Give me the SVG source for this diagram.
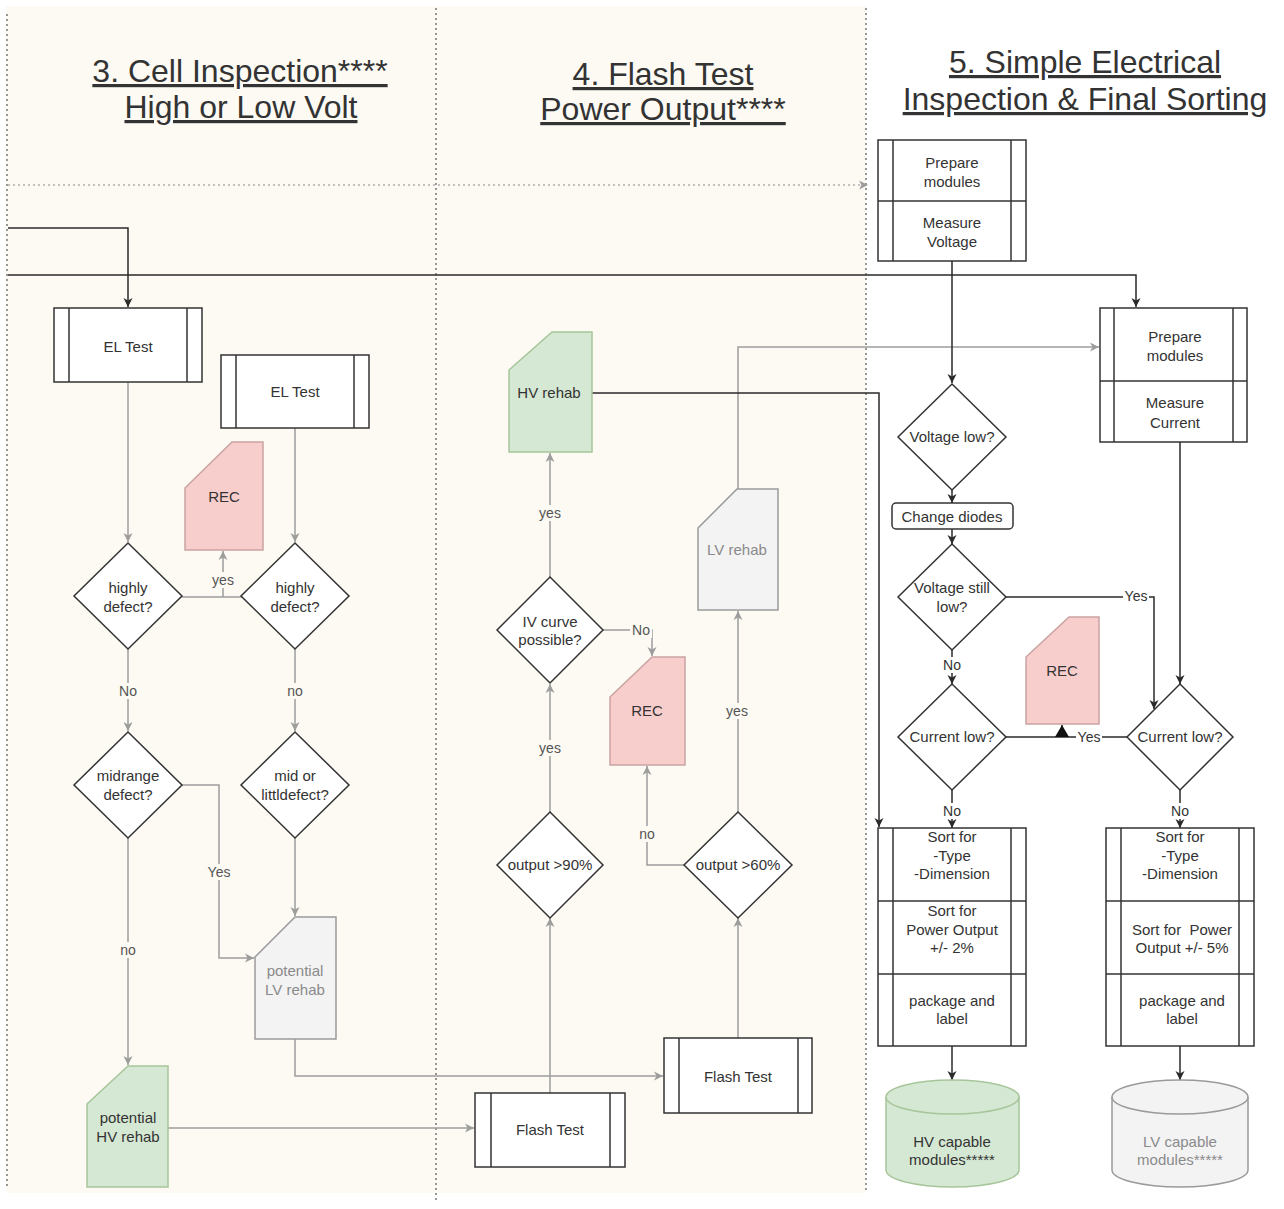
<svg xmlns="http://www.w3.org/2000/svg" width="1284" height="1209" viewBox="0 0 1284 1209">
  <style>
    text { font-family: "Liberation Sans", Arial, sans-serif; text-anchor: middle; }
    .title { font-size: 32px; fill: #333; text-decoration: underline; }
    .t { font-size: 15px; fill: #333; }
    .tg { font-size: 15px; fill: #8a8a8a; }
    .lbl { font-size: 14px; fill: #555; }
    .lbld { font-size: 14px; fill: #333; }
    .box { fill: #ffffff; stroke: #333; stroke-width: 1.5; }
    .in { stroke: #333; stroke-width: 1.5; }
    .dia { fill: #ffffff; stroke: #333; stroke-width: 1.5; }
    .red { fill: #f8cecc; stroke: #c9a3a2; stroke-width: 1.5; }
    .green { fill: #d5e8d4; stroke: #a7c59a; stroke-width: 1.5; }
    .grey { fill: #f3f3f4; stroke: #9a9a9a; stroke-width: 1.5; }
    .cg { fill: none; stroke: #9d9d9d; stroke-width: 1.5; }
    .cd { fill: none; stroke: #2a2a2a; stroke-width: 1.5; }
    .sep { fill: none; stroke: #777; stroke-width: 1.5; stroke-dasharray: 2 3; }
    .bgc { fill: #fcfaf3; }
    .bgw { fill: #ffffff; }
  </style>
  <defs>
    <marker id="ag" markerUnits="userSpaceOnUse" markerWidth="10" markerHeight="10" refX="9" refY="5" orient="auto">
      <path d="M0,0.5 L9,5 L0,9.5 L2.5,5 Z" fill="#9d9d9d"/>
    </marker>
    <marker id="ad" markerUnits="userSpaceOnUse" markerWidth="10" markerHeight="10" refX="9" refY="5" orient="auto">
      <path d="M0,0.5 L9,5 L0,9.5 L2.5,5 Z" fill="#2a2a2a"/>
    </marker>
    <marker id="ab" markerUnits="userSpaceOnUse" markerWidth="14" markerHeight="14" refX="12" refY="7" orient="auto">
      <path d="M0,0 L12,7 L0,14 Z" fill="#111"/>
    </marker>
  </defs>

  <!-- page background and lanes -->
  <rect x="0" y="0" width="1284" height="1209" fill="#ffffff"/>
  <rect x="6" y="6" width="860" height="1187" class="bgc"/>
  <line x1="7" y1="14" x2="7" y2="1187" class="sep"/>
  <line x1="436" y1="8" x2="436" y2="1200" class="sep"/>
  <line x1="866" y1="8" x2="866" y2="1190" class="sep"/>
  <line x1="8" y1="185" x2="868" y2="185" stroke="#b0b0b0" stroke-width="1.5" stroke-dasharray="2 3" marker-end="url(#ag)"/>

  <!-- lane titles -->
  <text class="title" x="240" y="82">3. Cell Inspection****</text>
  <text class="title" x="241" y="118">High or Low Volt</text>
  <text class="title" x="663" y="85">4. Flash Test</text>
  <text class="title" x="663" y="120">Power Output****</text>
  <text class="title" x="1085" y="73">5. Simple Electrical</text>
  <text class="title" x="1085" y="110">Inspection &amp; Final Sorting</text>

  <!-- connectors -->
  <g id="connectors">
    <path class="cd" d="M8,228 H128 V307" marker-end="url(#ad)"/>
    <path class="cd" d="M8,275 H1136 V307" marker-end="url(#ad)"/>

    <path class="cg" d="M128,382 V542" marker-end="url(#ag)"/>
    <path class="cg" d="M295,428 V542" marker-end="url(#ag)"/>
    <path class="cg" d="M182,597 H242"/>
    <path class="cg" d="M223,597 V551" marker-end="url(#ag)"/>
    <path class="cg" d="M128,649 V731" marker-end="url(#ag)"/>
    <path class="cg" d="M295,649 V731" marker-end="url(#ag)"/>
    <path class="cg" d="M182,785 H219 V958 H254" marker-end="url(#ag)"/>
    <path class="cg" d="M295,838 V916" marker-end="url(#ag)"/>
    <path class="cg" d="M128,838 V1065" marker-end="url(#ag)"/>
    <path class="cg" d="M168,1128 H474" marker-end="url(#ag)"/>
    <path class="cg" d="M295,1039 V1076 H663" marker-end="url(#ag)"/>
    <path class="cg" d="M550,1093 V918" marker-end="url(#ag)"/>
    <path class="cg" d="M738,1038 V918" marker-end="url(#ag)"/>
    <path class="cg" d="M685,865 H647 V766" marker-end="url(#ag)"/>
    <path class="cg" d="M550,812 V684" marker-end="url(#ag)"/>
    <path class="cg" d="M603,630 H652 V656" marker-end="url(#ag)"/>
    <path class="cg" d="M550,577 V453" marker-end="url(#ag)"/>
    <path class="cg" d="M738,812 V611" marker-end="url(#ag)"/>
    <path class="cg" d="M738,489 V347 H1099" marker-end="url(#ag)"/>

    <path class="cd" d="M592,393 H879 V827" marker-end="url(#ad)"/>
    <path class="cd" d="M952,261 V383" marker-end="url(#ad)"/>
    <path class="cd" d="M952,490 V503" marker-end="url(#ad)"/>
    <path class="cd" d="M952,529 V544" marker-end="url(#ad)"/>
    <path class="cd" d="M1006,597 H1154 V709" marker-end="url(#ad)"/>
    <path class="cd" d="M952,650 V684" marker-end="url(#ad)"/>
    <path class="cd" d="M1180,442 V684" marker-end="url(#ad)"/>
    <path class="cd" d="M1127,737 H1006"/>
    <path class="cd" d="M1062,737 V725" marker-end="url(#ab)"/>
    <path class="cd" d="M952,790 V828" marker-end="url(#ad)"/>
    <path class="cd" d="M1180,790 V828" marker-end="url(#ad)"/>
    <path class="cd" d="M952,1046 V1080" marker-end="url(#ad)"/>
    <path class="cd" d="M1180,1046 V1080" marker-end="url(#ad)"/>

    <!-- connector labels -->
    <rect x="211" y="572" width="24" height="16" class="bgc"/>
    <text class="lbl" x="223" y="585">yes</text>
    <rect x="117" y="683" width="22" height="16" class="bgc"/>
    <text class="lbl" x="128" y="696">No</text>
    <rect x="286" y="683" width="18" height="16" class="bgc"/>
    <text class="lbl" x="295" y="696">no</text>
    <rect x="206" y="864" width="26" height="16" class="bgc"/>
    <text class="lbl" x="219" y="877">Yes</text>
    <rect x="119" y="942" width="18" height="16" class="bgc"/>
    <text class="lbl" x="128" y="955">no</text>
    <rect x="638" y="826" width="18" height="16" class="bgc"/>
    <text class="lbl" x="647" y="839">no</text>
    <rect x="538" y="740" width="24" height="16" class="bgc"/>
    <text class="lbl" x="550" y="753">yes</text>
    <rect x="630" y="622" width="22" height="16" class="bgc"/>
    <text class="lbl" x="641" y="635">No</text>
    <rect x="538" y="505" width="24" height="16" class="bgc"/>
    <text class="lbl" x="550" y="518">yes</text>
    <rect x="726" y="703" width="24" height="16" class="bgc"/>
    <text class="lbl" x="737" y="716">yes</text>
    <rect x="1123" y="588" width="26" height="16" class="bgw"/>
    <text class="lbld" x="1136" y="601">Yes</text>
    <rect x="941" y="657" width="22" height="16" class="bgw"/>
    <text class="lbld" x="952" y="670">No</text>
    <rect x="1076" y="729" width="26" height="16" class="bgw"/>
    <text class="lbld" x="1089" y="742">Yes</text>
    <rect x="941" y="803" width="22" height="16" class="bgw"/>
    <text class="lbld" x="952" y="816">No</text>
    <rect x="1169" y="803" width="22" height="16" class="bgw"/>
    <text class="lbld" x="1180" y="816">No</text>
  </g>

  <!-- lane 3: cell inspection -->
  <g id="el-test-1">
    <rect class="box" x="54" y="308" width="148" height="74"/>
    <line class="in" x1="69" y1="308" x2="69" y2="382"/>
    <line class="in" x1="187" y1="308" x2="187" y2="382"/>
    <text class="t" x="128" y="352">EL Test</text>
  </g>
  <g id="el-test-2">
    <rect class="box" x="221" y="355" width="148" height="73"/>
    <line class="in" x1="236" y1="355" x2="236" y2="428"/>
    <line class="in" x1="354" y1="355" x2="354" y2="428"/>
    <text class="t" x="295" y="397">EL Test</text>
  </g>
  <g id="rec-1">
    <polygon class="red" points="185,488 232,442 263,442 263,550 185,550"/>
    <text class="t" x="224" y="502">REC</text>
  </g>
  <g id="highly-defect-1">
    <polygon class="dia" points="128,543 182,596 128,649 74,596"/>
    <text class="t" x="128" y="593">highly</text>
    <text class="t" x="128" y="612">defect?</text>
  </g>
  <g id="highly-defect-2">
    <polygon class="dia" points="295,543 349,596 295,649 241,596"/>
    <text class="t" x="295" y="593">highly</text>
    <text class="t" x="295" y="612">defect?</text>
  </g>
  <g id="midrange-defect">
    <polygon class="dia" points="128,732 182,785 128,838 74,785"/>
    <text class="t" x="128" y="781">midrange</text>
    <text class="t" x="128" y="800">defect?</text>
  </g>
  <g id="mid-or-little-defect">
    <polygon class="dia" points="295,732 349,785 295,838 241,785"/>
    <text class="t" x="295" y="781">mid or</text>
    <text class="t" x="295" y="800">littldefect?</text>
  </g>
  <g id="potential-lv-rehab">
    <polygon class="grey" points="255,957 295,917 336,917 336,1039 255,1039"/>
    <text class="tg" x="295" y="976">potential</text>
    <text class="tg" x="295" y="995">LV rehab</text>
  </g>
  <g id="potential-hv-rehab">
    <polygon class="green" points="87,1104 128,1066 168,1066 168,1187 87,1187"/>
    <text class="t" x="128" y="1123">potential</text>
    <text class="t" x="128" y="1142">HV rehab</text>
  </g>

  <!-- lane 4: flash test -->
  <g id="flash-test-1">
    <rect class="box" x="475" y="1093" width="150" height="74"/>
    <line class="in" x1="491" y1="1093" x2="491" y2="1167"/>
    <line class="in" x1="610" y1="1093" x2="610" y2="1167"/>
    <text class="t" x="550" y="1135">Flash Test</text>
  </g>
  <g id="flash-test-2">
    <rect class="box" x="664" y="1038" width="148" height="75"/>
    <line class="in" x1="679" y1="1038" x2="679" y2="1113"/>
    <line class="in" x1="798" y1="1038" x2="798" y2="1113"/>
    <text class="t" x="738" y="1082">Flash Test</text>
  </g>
  <g id="output-90">
    <polygon class="dia" points="550,812 603,865 550,918 497,865"/>
    <text class="t" x="550" y="870">output &gt;90%</text>
  </g>
  <g id="output-60">
    <polygon class="dia" points="738,812 792,865 738,918 684,865"/>
    <text class="t" x="738" y="870">output &gt;60%</text>
  </g>
  <g id="rec-2">
    <polygon class="red" points="610,697 652,657 685,657 685,765 610,765"/>
    <text class="t" x="647" y="716">REC</text>
  </g>
  <g id="iv-curve">
    <polygon class="dia" points="550,577 603,630 550,683 497,630"/>
    <text class="t" x="550" y="627">IV curve</text>
    <text class="t" x="550" y="645">possible?</text>
  </g>
  <g id="hv-rehab">
    <polygon class="green" points="509,370 552,332 592,332 592,452 509,452"/>
    <text class="t" x="549" y="398">HV rehab</text>
  </g>
  <g id="lv-rehab">
    <polygon class="grey" points="698,528 737,489 778,489 778,610 698,610"/>
    <text class="tg" x="737" y="555">LV rehab</text>
  </g>

  <!-- lane 5: electrical inspection and sorting -->
  <g id="measure-voltage">
    <rect class="box" x="878" y="140" width="148" height="121"/>
    <line class="in" x1="878" y1="201" x2="1026" y2="201"/>
    <line class="in" x1="893" y1="140" x2="893" y2="261"/>
    <line class="in" x1="1011" y1="140" x2="1011" y2="261"/>
    <text class="t" x="952" y="168">Prepare</text>
    <text class="t" x="952" y="187">modules</text>
    <text class="t" x="952" y="228">Measure</text>
    <text class="t" x="952" y="247">Voltage</text>
  </g>
  <g id="measure-current">
    <rect class="box" x="1100" y="308" width="147" height="134"/>
    <line class="in" x1="1100" y1="381" x2="1247" y2="381"/>
    <line class="in" x1="1114" y1="308" x2="1114" y2="442"/>
    <line class="in" x1="1233" y1="308" x2="1233" y2="442"/>
    <text class="t" x="1175" y="342">Prepare</text>
    <text class="t" x="1175" y="361">modules</text>
    <text class="t" x="1175" y="408">Measure</text>
    <text class="t" x="1175" y="428">Current</text>
  </g>
  <g id="voltage-low">
    <polygon class="dia" points="952,384 1006,437 952,490 898,437"/>
    <text class="t" x="952" y="442">Voltage low?</text>
  </g>
  <g id="change-diodes">
    <rect class="box" x="892" y="503" width="121" height="26" rx="4"/>
    <text class="t" x="952" y="522">Change diodes</text>
  </g>
  <g id="voltage-still-low">
    <polygon class="dia" points="952,544 1006,597 952,650 898,597"/>
    <text class="t" x="952" y="593">Voltage still</text>
    <text class="t" x="952" y="612">low?</text>
  </g>
  <g id="current-low-1">
    <polygon class="dia" points="952,684 1006,737 952,790 898,737"/>
    <text class="t" x="952" y="742">Current low?</text>
  </g>
  <g id="current-low-2">
    <polygon class="dia" points="1180,684 1233,737 1180,790 1127,737"/>
    <text class="t" x="1180" y="742">Current low?</text>
  </g>
  <g id="rec-3">
    <polygon class="red" points="1026,657 1069,617 1099,617 1099,724 1026,724"/>
    <text class="t" x="1062" y="676">REC</text>
  </g>
  <g id="sort-hv">
    <rect class="box" x="878" y="828" width="148" height="218"/>
    <line class="in" x1="878" y1="901" x2="1026" y2="901"/>
    <line class="in" x1="878" y1="974" x2="1026" y2="974"/>
    <line class="in" x1="893" y1="828" x2="893" y2="1046"/>
    <line class="in" x1="1011" y1="828" x2="1011" y2="1046"/>
    <text class="t" x="952" y="842">Sort for</text>
    <text class="t" x="952" y="861">-Type</text>
    <text class="t" x="952" y="879">-Dimension</text>
    <text class="t" x="952" y="916">Sort for</text>
    <text class="t" x="952" y="935">Power Output</text>
    <text class="t" x="952" y="953">+/- 2%</text>
    <text class="t" x="952" y="1006">package and</text>
    <text class="t" x="952" y="1024">label</text>
  </g>
  <g id="sort-lv">
    <rect class="box" x="1106" y="828" width="148" height="218"/>
    <line class="in" x1="1106" y1="901" x2="1254" y2="901"/>
    <line class="in" x1="1106" y1="974" x2="1254" y2="974"/>
    <line class="in" x1="1121" y1="828" x2="1121" y2="1046"/>
    <line class="in" x1="1239" y1="828" x2="1239" y2="1046"/>
    <text class="t" x="1180" y="842">Sort for</text>
    <text class="t" x="1180" y="861">-Type</text>
    <text class="t" x="1180" y="879">-Dimension</text>
    <text class="t" x="1182" y="935" xml:space="preserve">Sort for  Power</text>
    <text class="t" x="1182" y="953">Output +/- 5%</text>
    <text class="t" x="1182" y="1006">package and</text>
    <text class="t" x="1182" y="1024">label</text>
  </g>
  <g id="hv-modules">
    <path class="green" d="M886,1097 A66.5,17 0 0 1 1019,1097 V1170 A66.5,17 0 0 1 886,1170 Z"/>
    <path fill="none" stroke="#a7c59a" stroke-width="1.5" d="M886,1097 A66.5,17 0 0 0 1019,1097"/>
    <text class="t" x="952" y="1147">HV capable</text>
    <text class="t" x="952" y="1165">modules*****</text>
  </g>
  <g id="lv-modules">
    <path class="grey" d="M1112,1097 A68,17 0 0 1 1248,1097 V1170 A68,17 0 0 1 1112,1170 Z"/>
    <path fill="none" stroke="#9a9a9a" stroke-width="1.5" d="M1112,1097 A68,17 0 0 0 1248,1097"/>
    <text class="tg" x="1180" y="1147">LV capable</text>
    <text class="tg" x="1180" y="1165">modules*****</text>
  </g>
</svg>
